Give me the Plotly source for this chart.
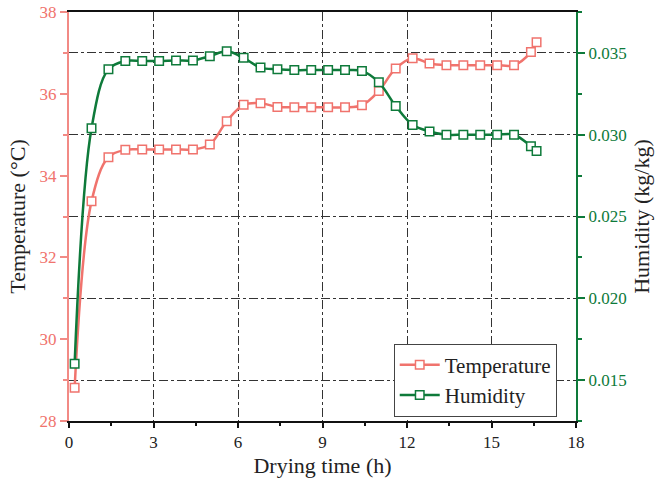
import plotly.graph_objects as go

time_h = [0.2, 0.8, 1.4, 2.0, 2.6, 3.2, 3.8, 4.4, 5.0, 5.6, 6.2, 6.8, 7.4, 8.0, 8.6,
          9.2, 9.8, 10.4, 11.0, 11.6, 12.2, 12.8, 13.4, 14.0, 14.6, 15.2, 15.8, 16.4, 16.6]
temperature = [28.81, 33.37, 34.45, 34.63, 34.64, 34.64, 34.64, 34.64, 34.76, 35.33, 35.73,
               35.77, 35.68, 35.67, 35.67, 35.67, 35.67, 35.72, 36.07, 36.62, 36.87, 36.74,
               36.70, 36.70, 36.70, 36.70, 36.70, 37.02, 37.26]
humidity = [0.0160, 0.0304, 0.0340, 0.0345, 0.0345, 0.0345, 0.03454, 0.03454, 0.0348, 0.0351,
            0.0347, 0.0341, 0.0340, 0.03395, 0.03395, 0.03395, 0.03395, 0.0339, 0.0332, 0.03175,
            0.0306, 0.0302, 0.0300, 0.0300, 0.0300, 0.0300, 0.0300, 0.0293, 0.0290]

RED = "#F0736D"
RED_AX = "#F28A85"
GREEN = "#0E7A3A"
FONT = "'Times New Roman', 'Liberation Serif', 'DejaVu Serif', serif"

fig = go.Figure()
fig.add_trace(go.Scatter(
    x=time_h, y=temperature, name="Temperature", mode="lines+markers",
    line=dict(color=RED, width=2.5, shape="spline", smoothing=1),
    marker=dict(symbol="square", size=8.5, color="white", line=dict(color=RED, width=1.5)),
    yaxis="y"))
fig.add_trace(go.Scatter(
    x=time_h, y=humidity, name="Humidity", mode="lines+markers",
    line=dict(color=GREEN, width=2.5, shape="spline", smoothing=1),
    marker=dict(symbol="square", size=8.5, color="white", line=dict(color=GREEN, width=1.5)),
    yaxis="y2"))

fig.update_layout(
    width=658, height=486,
    margin=dict(l=69, r=82, t=12, b=65, autoexpand=False),
    paper_bgcolor="white", plot_bgcolor="white",
    font=dict(family=FONT, size=17, color="#222"),
    showlegend=True,
    legend=dict(x=0.962, y=0.1, xanchor="right", yanchor="middle",
                bordercolor="#444", borderwidth=1, bgcolor="white",
                font=dict(family=FONT, size=21, color="#222"),
                tracegroupgap=0, itemwidth=40),
    xaxis=dict(
        automargin=False,
        range=[0, 18], tick0=0, dtick=3, showline=True, linecolor="#111", linewidth=2,
        mirror=True, ticks="outside", ticklen=5, tickwidth=1.5, tickcolor="#111",
        minor=dict(dtick=1.5, ticks="outside", ticklen=3, tickcolor="#111", showgrid=False),
        showgrid=True, gridcolor="#333", gridwidth=1, griddash="dashdot", zeroline=False,
        tickfont=dict(family=FONT, size=17, color="#222"),
        title=dict(text="Drying time (h)", font=dict(family=FONT, size=22, color="#222"), standoff=6)),
    yaxis=dict(
        automargin=False,
        range=[28, 38], tick0=28, dtick=2, showline=True, linecolor=RED_AX, linewidth=2,
        ticks="outside", ticklen=7, tickwidth=1.5, tickcolor=RED_AX,
        minor=dict(dtick=1, ticks="outside", ticklen=4, tickcolor=RED_AX, showgrid=False),
        showgrid=False, zeroline=False,
        tickfont=dict(family=FONT, size=17, color=RED),
        title=dict(text="Temperature (°C)", font=dict(family=FONT, size=22, color="#222"), standoff=8)),
    yaxis2=dict(
        automargin=False,
        range=[0.0125, 0.0375], tick0=0.015, dtick=0.005, tickformat=".3f",
        overlaying="y", side="right", showline=True, linecolor=GREEN, linewidth=2,
        ticks="outside", ticklen=7, tickwidth=1.5, tickcolor=GREEN,
        minor=dict(dtick=0.0025, ticks="outside", ticklen=4, tickcolor=GREEN, showgrid=False),
        showgrid=True, gridcolor="#333", gridwidth=1, griddash="dashdot", zeroline=False,
        tickfont=dict(family=FONT, size=17, color=GREEN),
        title=dict(text="Humidity (kg/kg)", font=dict(family=FONT, size=22, color="#222"), standoff=8)),
)

fig.write_html("out.html")
